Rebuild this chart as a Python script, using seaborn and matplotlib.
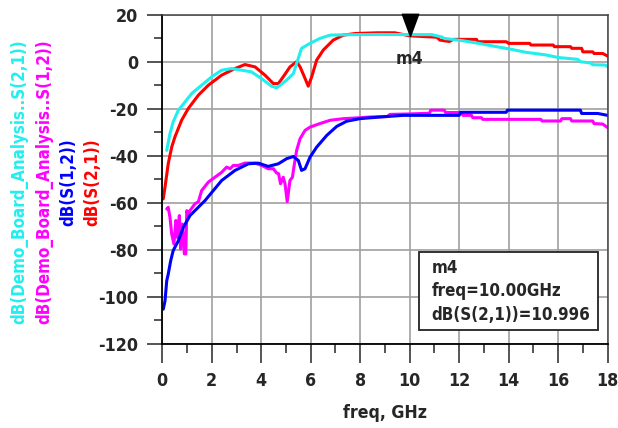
import numpy as np
import pandas as pd
import matplotlib
matplotlib.use('Agg')
import matplotlib.pyplot as plt
import matplotlib.patches as mpatches
from matplotlib import font_manager
from matplotlib.path import Path
import seaborn as sns

# --- data ---
s21_freq = [0.04, 0.11, 0.24, 0.38, 0.51, 0.78, 1.05, 1.46, 1.86, 2.4, 2.94, 3.34, 3.75, 4.15, 4.49,
            4.69, 4.89, 5.16, 5.43, 5.57, 5.77, 5.9, 6.04, 6.24, 6.51, 6.91, 7.32, 7.8, 8.7, 9.4,
            10.0, 10.75, 11.1, 11.22, 11.6, 11.76, 12.7, 12.75, 13.9, 14.0, 14.85, 14.9, 15.8, 15.85,
            16.5, 16.55, 16.95, 17.0, 17.4, 17.45, 17.8, 18.0]
s21_db = [-58.3, -53.3, -43.4, -36.3, -32.0, -24.9, -19.9, -14.2, -10.0, -5.7, -2.9, -1.2, -2.2, -5.7, -9.3,
          -9.3, -6.4, -2.2, 0.0, -2.2, -7.1, -10.4, -6.4, 0.7, 5.0, 9.2, 11.3, 12.0, 12.3, 12.3,
          11.0, 10.6, 10.4, 9.2, 8.6, 9.5, 9.5, 8.5, 8.5, 7.8, 7.8, 7.1, 7.1, 6.4,
          6.4, 5.7, 5.7, 4.2, 4.2, 3.5, 3.5, 2.4]

demo_s21_freq = [0.18, 0.31, 0.44, 0.65, 0.92, 1.19, 1.59, 2.0, 2.4, 2.8, 3.2, 3.6, 4.0, 4.42, 4.62,
                 4.76, 5.03, 5.3, 5.43, 5.63, 5.97, 6.37, 6.78, 7.5, 8.7, 10.9, 11.3, 11.4, 12.1,
                 12.8, 13.4, 14.1, 14.7, 15.5, 16.0, 16.8, 16.9, 17.3, 17.4, 17.9, 18.0]
demo_s21_db = [-37.7, -30.6, -25.6, -20.6, -17.1, -13.5, -10.0, -6.4, -3.6, -2.9, -3.6, -4.3, -7.1, -10.4, -11.1,
               -10.0, -7.8, -5.0, -0.7, 5.7, 7.8, 9.9, 11.3, 11.5, 11.6, 11.5, 10.5, 9.9, 9.0,
               7.8, 6.6, 5.3, 4.0, 2.9, 1.8, 1.0, 0.0, -0.5, -1.3, -1.4, -2.2]

s12_freq = [0.04, 0.11, 0.18, 0.24, 0.34, 0.44, 0.65, 0.85, 1.12, 1.73, 2.4, 2.94, 3.48, 3.88, 4.28,
            4.69, 5.03, 5.3, 5.5, 5.63, 5.77, 5.97, 6.24, 6.65, 7.05, 7.45, 7.99, 8.8, 9.74, 12.0,
            12.05, 13.9, 13.95, 16.9, 16.95, 17.6, 18.0]
s12_db = [-105.2, -101.7, -93.1, -90.3, -84.6, -80.3, -76.1, -70.4, -65.4, -59.0, -50.5, -46.2, -43.4, -43.1, -44.5,
          -43.4, -41.2, -40.3, -42.0, -46.2, -45.5, -40.6, -36.3, -31.3, -27.5, -25.3, -24.2, -23.5, -22.8, -22.8,
          -21.5, -21.5, -20.6, -20.6, -22.0, -22.0, -22.8]

demo_s12_freq = [0.18, 0.24, 0.31, 0.38, 0.47, 0.55, 0.61, 0.69, 0.74, 0.81, 0.85, 0.89, 0.95, 0.99, 1.05,
                 1.12, 1.32, 1.46, 1.59, 1.86, 2.13, 2.4, 2.6, 2.74, 2.87, 3.07, 3.34, 3.75, 4.02, 4.28,
                 4.49, 4.62, 4.7, 4.78, 4.89, 4.96, 5.05, 5.16, 5.26, 5.32, 5.43, 5.57, 5.77, 5.97, 6.37,
                 6.78, 7.32, 7.86, 8.4, 9.1, 9.2, 10.0, 10.8, 10.85, 11.4, 11.45, 12.1, 12.15, 12.5, 12.55,
                 12.9, 12.95, 15.3, 15.35, 16.1, 16.15, 16.5, 16.55, 17.4, 17.45, 17.8, 18.0]
demo_s12_db = [-62.6, -61.9, -66.1, -73.2, -77.5, -67.5, -74.7, -65.4, -79.6, -69.0, -73.2, -81.7, -81.7, -63.3, -65.4,
               -63.3, -60.4, -59.5, -54.8, -51.2, -49.1, -47.0, -44.8, -45.5, -44.1, -44.1, -43.1, -43.1, -44.1, -45.5,
               -45.5, -47.3, -47.6, -51.9, -49.1, -51.9, -59.5, -50.5, -49.1, -44.8, -37.7, -32.7, -29.2, -27.8, -26.3,
               -24.9, -24.2, -23.9, -23.5, -23.3, -22.4, -22.2, -21.9, -20.6, -20.6, -21.6, -21.6, -22.8, -22.8, -23.8,
               -23.8, -24.5, -24.5, -25.2, -25.2, -24.2, -24.2, -25.2, -25.2, -26.3, -26.5, -28.0]

series_labels = ['dB(Demo_Board_Analysis..S(2,1))', 'dB(Demo_Board_Analysis..S(1,2))', 'dB(S(1,2))', 'dB(S(2,1))']
series_colors = ['#22EEEE', '#FF00FF', '#0000FF', '#FF0000']

marker_freq = 10.0
marker_db = 10.996
x_ticks = list(range(0, 19, 2))
y_ticks = list(range(-120, 21, 20))

# --- style ---
sns.set_style('white')
plt.rcParams['font.family'] = ['DejaVu Sans']
plt.rcParams['font.stretch'] = 'condensed'
plt.rcParams['font.weight'] = 'bold'
plt.rcParams['axes.unicode_minus'] = False

# condensed bold face if present, otherwise shrink the text a bit more
fp = font_manager.FontProperties(family='DejaVu Sans', weight='bold', stretch='condensed')
has_condensed = 'Condensed' in font_manager.findfont(fp)
fs = 12.2 if has_condensed else 10.8
fs_tick = 12.8 if has_condensed else 11.2

fig = plt.figure(figsize=(6.18, 4.28), dpi=100)
ax = fig.add_axes([0.2626, 0.1963, 0.7206, 0.7694])

curves = [
    (demo_s12_freq, demo_s12_db, series_labels[1], series_colors[1]),
    (s12_freq, s12_db, series_labels[2], series_colors[2]),
    (s21_freq, s21_db, series_labels[3], series_colors[3]),
    (demo_s21_freq, demo_s21_db, series_labels[0], series_colors[0]),
]
for fq, db, lab, col in curves:
    df = pd.DataFrame({'freq': fq, 'dB': db})
    sns.lineplot(data=df, x='freq', y='dB', color=col, lw=2.2, estimator=None, ax=ax, legend=False)

ax.set_xlim(0, 18)
ax.set_ylim(-120, 20)
ax.set_xticks(x_ticks)
ax.set_yticks(y_ticks)
ax.set_xticks(np.arange(1, 18, 2), minor=True)
ax.set_yticks(np.arange(-110, 20, 20), minor=True)
ax.grid(True, which='major', color='#a0a0a0', lw=1.2)
ax.set_axisbelow(True)

ax.tick_params(axis='y', which='major', direction='out', length=10.5, width=1.1, pad=7, labelsize=fs_tick, left=True)
ax.tick_params(axis='y', which='minor', direction='out', length=5.8, width=1.1, left=True)
ax.tick_params(axis='x', which='major', direction='out', length=13.5, width=1.1, pad=7, labelsize=fs_tick, bottom=True)
ax.tick_params(axis='x', which='minor', direction='out', length=6.5, width=1.1, bottom=True)
for lab in ax.get_xticklabels() + ax.get_yticklabels():
    lab.set_fontweight('bold')

for side in ['left', 'bottom']:
    ax.spines[side].set_color('black')
    ax.spines[side].set_linewidth(1.3)
for side in ['top', 'right']:
    ax.spines[side].set_color('#444444')
    ax.spines[side].set_linewidth(1.1)

ax.set_xlabel('freq, GHz', fontsize=fs + 0.5, fontweight='bold', labelpad=10)
ax.set_ylabel('')

# coloured stacked y-labels
label_x = [0.031, 0.071, 0.110, 0.149]
for xpos, lab, col in zip(label_x, series_labels, series_colors):
    fig.text(xpos, 0.575, lab, rotation=90, color=col, fontsize=fs, fontweight='bold',
             ha='center', va='center')

# marker m4
tri = Path([(-0.37, 1.0), (0.37, 1.0), (0.0, 0.0), (-0.37, 1.0)],
           [Path.MOVETO, Path.LINETO, Path.LINETO, Path.CLOSEPOLY])
ax.plot([marker_freq], [marker_db], marker=tri, ms=32, color='black', ls='none', clip_on=False, zorder=5)
ax.text(marker_freq, 1.0, 'm4', ha='center', va='center', fontsize=fs + 0.5, fontweight='bold')

# marker readout box
box = mpatches.Rectangle((419 / 618, 1 - 330 / 428), 179 / 618, 78 / 428, transform=fig.transFigure,
                         facecolor='white', edgecolor='#222222', lw=1.3, zorder=6)
fig.patches.append(box)
readout = ['m4', 'freq=%.2fGHz' % marker_freq, 'dB(S(2,1))=%.3f' % marker_db]
for i, line in enumerate(readout):
    fig.text(431.5 / 618, 1 - (268 + 23.5 * i) / 428, line, fontsize=fs, fontweight='bold',
             ha='left', va='center', zorder=7)

fig.savefig('out.png', dpi=100)
